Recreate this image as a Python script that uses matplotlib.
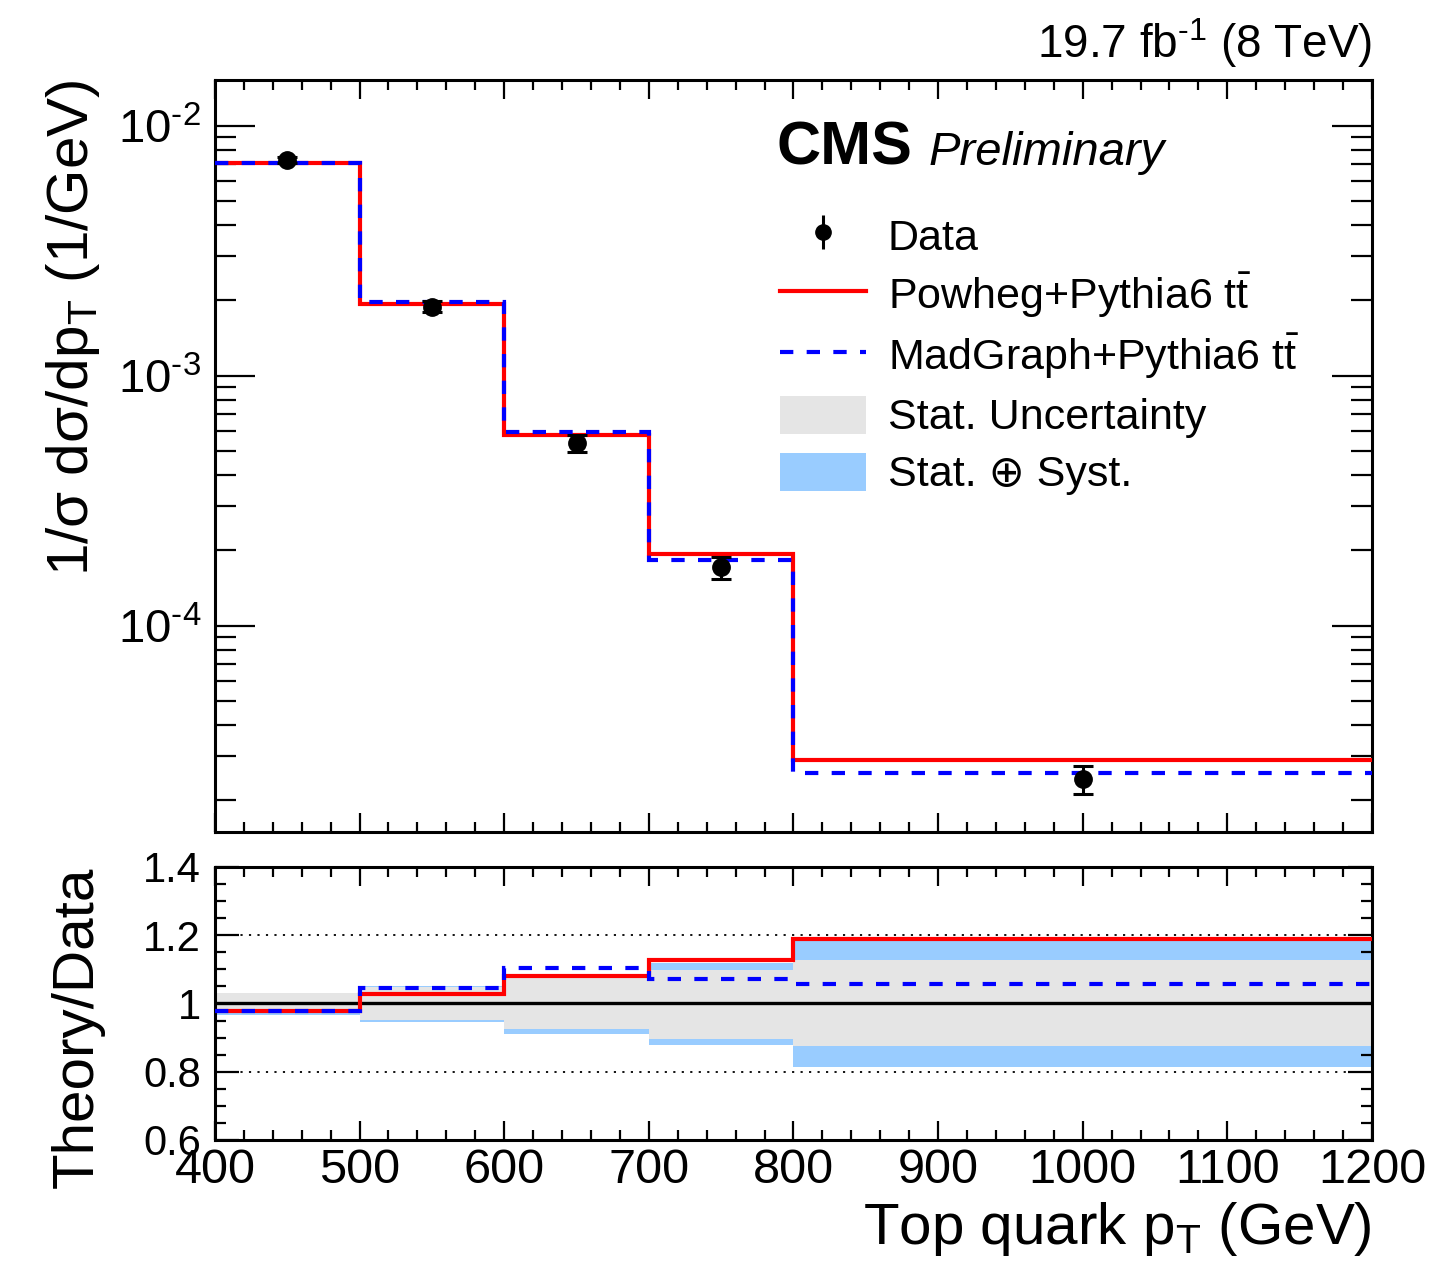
import numpy as np
import matplotlib
matplotlib.use('Agg')
import matplotlib.pyplot as plt
from matplotlib.ticker import (MultipleLocator, LogLocator, NullFormatter,
                               FormatStrFormatter, FuncFormatter)
from matplotlib.patches import Patch, Rectangle
from matplotlib.lines import Line2D
from matplotlib.legend_handler import HandlerErrorbar, HandlerPatch

# ROOT-ish look: Helvetica-like font everywhere, math in the same font
plt.rcParams['font.family'] = ['Liberation Sans', 'DejaVu Sans']
plt.rcParams['mathtext.fontset'] = 'custom'
plt.rcParams['mathtext.rm'] = 'Liberation Sans'
plt.rcParams['mathtext.it'] = 'Liberation Sans:italic'
plt.rcParams['mathtext.bf'] = 'Liberation Sans:bold'
plt.rcParams['axes.unicode_minus'] = False

# Top quark pT bins (GeV) and normalised cross sections (1/GeV)
bin_edges = [400, 500, 600, 700, 800, 1200]
data = [7.27e-3, 1.89e-3, 5.37e-4, 1.71e-4, 2.43e-5]
powheg = [7.12e-3, 1.943e-3, 5.80e-4, 1.93e-4, 2.89e-5]
madgraph = [7.10e-3, 1.977e-3, 5.93e-4, 1.835e-4, 2.57e-5]

# relative uncertainties on data
stat_up = [0.031, 0.049, 0.074, 0.098, 0.126]
stat_dn = [0.029, 0.047, 0.076, 0.103, 0.126]
tot_up = [0.031, 0.050, 0.075, 0.118, 0.185]
tot_dn = [0.035, 0.054, 0.088, 0.121, 0.185]

edges = np.array(bin_edges, dtype=float)
centers = 0.5 * (edges[:-1] + edges[1:])
widths = np.diff(edges)
data = np.array(data)
powheg = np.array(powheg)
madgraph = np.array(madgraph)
stat_up, stat_dn = np.array(stat_up), np.array(stat_dn)
tot_up, tot_dn = np.array(tot_up), np.array(tot_dn)

fig = plt.figure(figsize=(14.34, 12.75), dpi=100)
ax = fig.add_axes([0.1499, 0.3475, 0.8068, 0.5898])
rax = fig.add_axes([0.1499, 0.1059, 0.8068, 0.2141], sharex=ax)

red = '#ff0000'
blue = '#0000ff'
grey = '#e5e5e5'
lightblue = '#99ccff'
dash = (0, (3.2, 3.2))

# ---- upper panel: spectra
ax.stairs(powheg, edges, baseline=None, color=red, lw=3, zorder=3)
ax.stairs(madgraph, edges, baseline=None, color=blue, lw=3, ls=dash, zorder=4)
ax.errorbar(centers, data, yerr=[data * stat_dn, data * stat_up], fmt='o',
            color='k', ms=12.5, elinewidth=2.2, capsize=7, capthick=2.2, zorder=5)


def pow10_label(v, pos):
    # ROOT style 10^{-n} with a short hyphen in the exponent
    return '$10^{\\text{-%d}}$' % round(-np.log10(v))


ax.set_yscale('log')
ax.set_xlim(400, 1200)
ax.set_ylim(1.496e-5, 1.524e-2)
ax.yaxis.set_major_locator(LogLocator(base=10))
ax.yaxis.set_major_formatter(FuncFormatter(pow10_label))
ax.yaxis.set_minor_locator(LogLocator(base=10, subs=np.arange(2, 10)))
ax.yaxis.set_minor_formatter(NullFormatter())
ax.xaxis.set_major_locator(MultipleLocator(100))
ax.xaxis.set_minor_locator(MultipleLocator(20))
ax.tick_params(axis='x', labelbottom=False)

ax.set_ylabel('1/σ dσ/dp$_\\mathregular{T}$ (1/GeV)', fontsize=42, loc='top')
ax.yaxis.set_label_coords(-0.098, 1.0)

ax.text(0.4857, 0.887, 'CMS', transform=ax.transAxes, fontsize=44,
        fontweight='bold', va='baseline', ha='left')
ax.text(0.617, 0.887, 'Preliminary', transform=ax.transAxes, fontsize=34,
        fontstyle='italic', va='baseline', ha='left')
ax.text(1.0, 1.029, '19.7 fb$^{\\text{-1}}$ (8 TeV)', transform=ax.transAxes,
        fontsize=33, va='baseline', ha='right')


# legend
def flat_box(legend, orig_handle, xdescent, ydescent, width, height, fontsize):
    h = 0.88 * fontsize
    return Rectangle((-xdescent, -ydescent + (height - h) / 2), width, h)


data_proxy = ax.errorbar([np.nan], [np.nan], yerr=[np.nan], fmt='o', color='k',
                         ms=11, elinewidth=2.2, capsize=0)
handles = [
    data_proxy,
    Line2D([], [], color=red, lw=3),
    Line2D([], [], color=blue, lw=3, ls=dash),
    Patch(facecolor=grey, edgecolor='none'),
    Patch(facecolor=lightblue, edgecolor='none'),
]
labels = ['Data',
          'Powheg+Pythia6 $\\mathregular{t\\bar{t}}$',
          'MadGraph+Pythia6 $\\mathregular{t\\bar{t}}$',
          'Stat. Uncertainty',
          'Stat. ⊕ Syst.']
ax.legend(handles, labels, loc='upper left', bbox_to_anchor=(0.4883, 0.822),
          frameon=False, fontsize=31, handlelength=2.0, handleheight=1.2,
          handletextpad=0.5, labelspacing=0.27, borderpad=0, borderaxespad=0,
          handler_map={type(data_proxy): HandlerErrorbar(yerr_size=0.4),
                       Patch: HandlerPatch(patch_func=flat_box)})

# ---- lower panel: theory / data
ratio_pow = powheg / data
ratio_mad = madgraph / data
rax.bar(edges[:-1], tot_up + tot_dn, bottom=1 - tot_dn, width=widths,
        align='edge', color=lightblue, lw=0, zorder=1)
rax.bar(edges[:-1], stat_up + stat_dn, bottom=1 - stat_dn, width=widths,
        align='edge', color=grey, lw=0, zorder=2)
rax.axhline(1.0, color='k', lw=2.4, zorder=3)
for yl in (0.8, 1.2):
    rax.axhline(yl, color='k', lw=1.3, ls=(0, (1.2, 3.5)), zorder=3)
rax.stairs(ratio_pow, edges, baseline=None, color=red, lw=3, zorder=4)
rax.stairs(ratio_mad, edges, baseline=None, color=blue, lw=3, ls=dash, zorder=5)

rax.set_ylim(0.6, 1.4)
rax.yaxis.set_major_locator(MultipleLocator(0.2))
rax.yaxis.set_minor_locator(MultipleLocator(0.05))
rax.yaxis.set_major_formatter(FormatStrFormatter('%g'))
rax.set_ylabel('Theory/Data', fontsize=42, loc='top')
rax.yaxis.set_label_coords(-0.095, 1.0)
rax.set_xlabel('Top quark p$_\\mathregular{T}$ (GeV)', fontsize=42, loc='right')
rax.xaxis.set_label_coords(1.0, -0.22)

for a in (ax, rax):
    for s in a.spines.values():
        s.set_linewidth(2.2)
    a.tick_params(which='both', direction='in', top=True, right=True, width=1.6)
    a.tick_params(axis='x', which='major', length=14)
    a.tick_params(axis='x', which='minor', length=7)
    a.tick_params(axis='both', labelsize=30, pad=10)

ax.tick_params(axis='y', which='major', length=29, labelsize=34)
ax.tick_params(axis='y', which='minor', length=15)
rax.tick_params(axis='y', which='major', length=17)
rax.tick_params(axis='y', which='minor', length=8)
rax.tick_params(axis='x', labelsize=35, pad=6)

fig.savefig('out.png', dpi=100)
